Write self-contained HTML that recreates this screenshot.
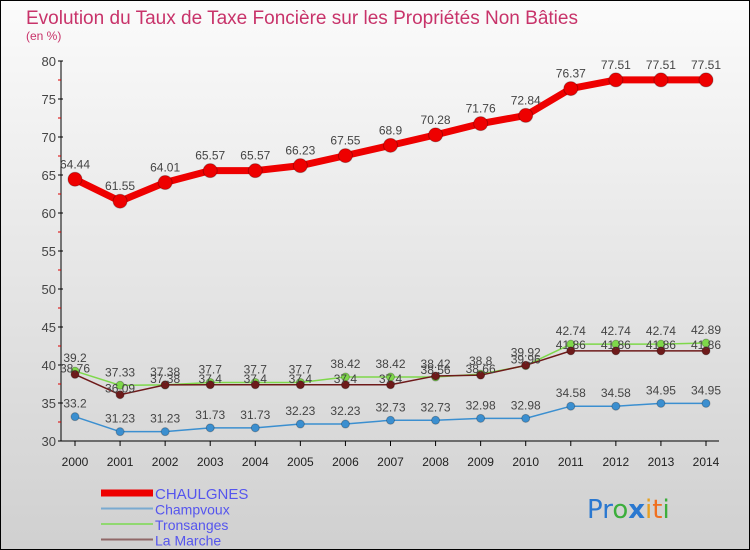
<!DOCTYPE html>
<html><head><meta charset="utf-8"><style>
body{margin:0;width:750px;height:550px;overflow:hidden}
#wrap{position:relative;width:748px;height:548px;border:1px solid #000;background:linear-gradient(#fbfbfb,#d0d0d0);font-family:"Liberation Sans",sans-serif}
</style></head><body>
<div id="wrap">
<svg id="chart" width="748" height="548" style="position:absolute;left:0;top:0">
<text x="25" y="23" font-size="19" textLength="552" lengthAdjust="spacingAndGlyphs" fill="#c8336a">Evolution du Taux de Taxe Foncière sur les Propriétés Non Bâties</text>
<text x="25" y="39" font-size="12" fill="#c8336a">(en %)</text>
<g id="axes"></g><g id="series"></g>
<text x="586" y="517" font-size="26" font-family="DejaVu Sans,sans-serif"><tspan fill="#2a78d0">Pr</tspan><tspan fill="#3cae3c">o</tspan><tspan fill="#2a78d0" font-weight="bold">x</tspan><tspan fill="#e8a020">i</tspan><tspan fill="#f07020">t</tspan><tspan fill="#3cae3c">i</tspan></text>
</svg>
</div>
<script>
const years=[2000,2001,2002,2003,2004,2005,2006,2007,2008,2009,2010,2011,2012,2013,2014];
const chaulgnes=[64.44,61.55,64.01,65.57,65.57,66.23,67.55,68.9,70.28,71.76,72.84,76.37,77.51,77.51,77.51];
const champvoux=[33.2,31.23,31.23,31.73,31.73,32.23,32.23,32.73,32.73,32.98,32.98,34.58,34.58,34.95,34.95];
const tronsanges=[39.2,37.33,37.38,37.7,37.7,37.7,38.42,38.42,38.42,38.8,39.92,42.74,42.74,42.74,42.89];
const laMarche=[38.76,36.09,37.38,37.4,37.4,37.4,37.4,37.4,38.56,38.66,39.96,41.86,41.86,41.86,41.86];
const yTicks=[30,35,40,45,50,55,60,65,70,75,80];
const NS='http://www.w3.org/2000/svg';
const x=i=>74+i*(705-74)/(years.length-1);
const y=v=>440-(v-30)*(440-60)/50;
function mk(t,a,p){const e=document.createElementNS(NS,t);for(const k in a)e.setAttribute(k,a[k]);p.appendChild(e);return e;}
const ax=document.getElementById('axes');
const yl=mk('line',{x1:60,y1:60,x2:60,y2:440,stroke:'#000'},ax);


const xl=mk('line',{x1:60,y1:440,x2:718,y2:440,stroke:'#000'},ax);


yTicks.forEach(v=>{
  mk('line',{x1:57,y1:y(v),x2:62,y2:y(v),stroke:'#000'},ax);
  if(v<80)mk('line',{x1:57,y1:y(v+2.5),x2:60,y2:y(v+2.5),stroke:'#d00'},ax);
  const t=mk('text',{x:55,y:y(v)+5,'font-size':13,fill:'#444','text-anchor':'end'},ax);
  t.textContent=v;
  
  
});
years.forEach((yr,i)=>{
  mk('line',{x1:x(i),y1:440,x2:x(i),y2:445,stroke:'#000'},ax);
  const t=mk('text',{x:x(i),y:465,'font-size':12,fill:'#222','text-anchor':'middle'},ax);
  t.textContent=yr;
  
  
});
const sg=document.getElementById('series');
function draw(data,name,color,w,r,off){
  const g=mk('g',{},sg);
  
  
  mk('polyline',{points:data.map((v,i)=>x(i)+','+y(v)).join(' '),fill:'none',stroke:color,'stroke-width':w,'stroke-linejoin':'round'},g);
  data.forEach((v,i)=>{
    const c=mk('circle',{cx:x(i),cy:y(v),r:r,fill:color,stroke:'rgba(0,0,0,0.25)'},g);
    
    
    const t=mk('text',{x:x(i),y:y(v)-off,'font-size':12,fill:'#444','text-anchor':'middle'},g);
    t.textContent=v;
    
    
  });
}
draw(champvoux,'champvoux','#3b8fd0',1.5,4,9);
draw(tronsanges,'tronsanges','#7ed84a',1.5,4,9);
draw(laMarche,'la-marche','#6e1a1a',1.5,4,2);
draw(chaulgnes,'chaulgnes','#ee0000',7,7,11);
const legend=[['CHAULGNES','#ee0000',7,15],['Champvoux','#7aaad0',2,14],['Tronsanges','#90d870',2,14],['La Marche','#906868',2,14]];
legend.forEach((l,k)=>{
  const yy=492+k*15.5;
  const g=mk('g',{},document.getElementById('chart'));
  
  
  mk('line',{x1:100,y1:yy,x2:152,y2:yy,stroke:l[1],'stroke-width':l[2]},g);
  const t=mk('text',{x:154,y:yy+6,'font-size':l[3],fill:'#5555ee'},g);
  t.textContent=l[0];
});
</script>
</body></html>
